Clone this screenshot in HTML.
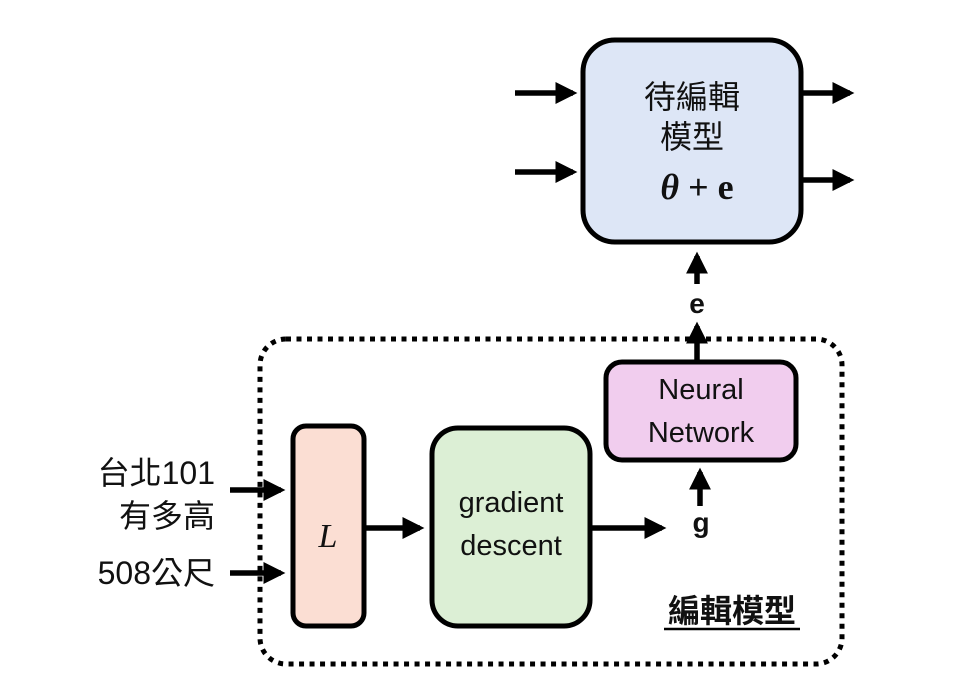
<!DOCTYPE html>
<html><head><meta charset="utf-8"><style>
html,body{margin:0;padding:0;background:#fff;}
svg{display:block;}
text{fill:#111;}
.s{font-family:"Liberation Sans","Noto Sans CJK TC",sans-serif;}
.r{font-family:"Liberation Serif","DejaVu Serif",serif;}
</style></head><body>
<svg width="965" height="696" viewBox="0 0 965 696" xmlns="http://www.w3.org/2000/svg">
<defs>
<marker id="a" markerWidth="4" markerHeight="4" refX="3.2" refY="2" orient="auto" markerUnits="strokeWidth">
<path d="M0,0 L4,2 L0,4 z" fill="#000"/>
</marker>
</defs>
<g stroke="#000" stroke-width="5" fill="none">
<rect x="583" y="40" width="218" height="202" rx="32" fill="#dde6f6"/>
<rect x="260" y="339" width="582" height="325" rx="26" stroke-dasharray="5,5.5"/>
<rect x="606" y="362" width="190" height="98" rx="16" fill="#f1cdee"/>
<rect x="293" y="426" width="71" height="200" rx="13" fill="#fbded3"/>
<rect x="432" y="428" width="158" height="198" rx="26" fill="#dcefd5"/>
</g>
<g stroke="#000" stroke-width="5.5" marker-end="url(#a)">
<line x1="515" y1="93" x2="573" y2="93"/>
<line x1="515" y1="172" x2="573" y2="172"/>
<line x1="801" y1="93" x2="850" y2="93"/>
<line x1="801" y1="180" x2="850" y2="180"/>
<line x1="697" y1="284" x2="697" y2="256"/>
<line x1="697" y1="360" x2="697" y2="326"/>
<line x1="700" y1="506" x2="700" y2="472"/>
<line x1="365" y1="528" x2="420" y2="528"/>
<line x1="590" y1="528" x2="662" y2="528"/>
<line x1="230" y1="490" x2="281" y2="490"/>
<line x1="230" y1="573" x2="281" y2="573"/>
</g>
<text class="s" x="692" y="108" font-size="32" text-anchor="middle">待編輯</text>
<text class="s" x="692" y="148" font-size="32" text-anchor="middle">模型</text>
<text class="r" x="697" y="199" font-size="36" text-anchor="middle" font-weight="bold"><tspan font-style="italic">θ</tspan> + e</text>
<text class="s" x="697" y="313" font-size="28" text-anchor="middle" font-weight="bold">e</text>
<text class="s" x="701" y="532" font-size="28" text-anchor="middle" font-weight="bold">g</text>
<text class="s" x="701" y="399" font-size="29" text-anchor="middle">Neural</text>
<text class="s" x="701" y="442" font-size="29" text-anchor="middle">Network</text>
<text class="s" x="511" y="512" font-size="29" text-anchor="middle">gradient</text>
<text class="s" x="511" y="555" font-size="29" text-anchor="middle">descent</text>
<text class="r" x="328" y="547" font-size="34" text-anchor="middle" font-style="italic">L</text>
<text class="s" x="215" y="484" font-size="32" text-anchor="end">台北101</text>
<text class="s" x="215" y="527" font-size="32" text-anchor="end">有多高</text>
<text class="s" x="215" y="584" font-size="32" text-anchor="end">508公尺</text>
<text class="s" x="732" y="622" font-size="32" text-anchor="middle" font-weight="bold">編輯模型</text>
<line x1="664" y1="629" x2="800" y2="629" stroke="#000" stroke-width="2.5"/>
</svg>
</body></html>
